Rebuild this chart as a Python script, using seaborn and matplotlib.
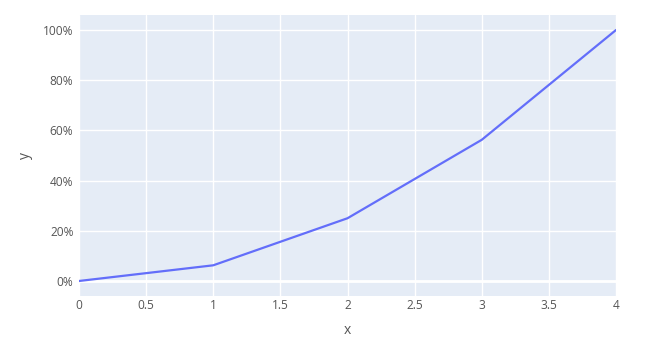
import matplotlib
matplotlib.use("Agg")
import matplotlib.pyplot as plt
import seaborn as sns
import pandas as pd
from matplotlib.ticker import FuncFormatter

x_values = [0, 1, 2, 3, 4]
y_values = [0.0, 0.0625, 0.25, 0.5625, 1.0]
x_ticks = [0, 0.5, 1, 1.5, 2, 2.5, 3, 3.5, 4]
y_ticks = [0, 0.2, 0.4, 0.6, 0.8, 1.0]

sns.set_theme(style="whitegrid")
plt.rcParams['font.family'] = ['Open Sans', 'DejaVu Sans']

df = pd.DataFrame({"x": x_values, "y": y_values})

fig = plt.figure(figsize=(6.6, 3.49), dpi=100)
ax = fig.add_axes([79/660, 53/349, (616-79)/660, (296-15)/349])
ax.set_facecolor("#E5ECF6")

sns.lineplot(data=df, x="x", y="y", ax=ax, color="#636EFA", linewidth=1.6)

ax.set_xlim(0, 4)
ax.set_ylim(-0.0598, 1.0598)
ax.set_xticks(x_ticks)
ax.set_yticks(y_ticks)
ax.xaxis.set_major_formatter(FuncFormatter(lambda v, p: f"{v:g}"))
ax.yaxis.set_major_formatter(FuncFormatter(lambda v, p: f"{v*100:.0f}%"))
ax.grid(True, color="white", linewidth=1)
ax.axhline(0, color="white", linewidth=2, zorder=1.5)
for s in ax.spines.values():
    s.set_visible(False)
text_color = "#555555"
ax.tick_params(axis="x", length=0, labelsize=8.6, colors=text_color, pad=2)
ax.tick_params(axis="y", length=0, labelsize=8.6, colors=text_color, pad=4)
ax.set_xlabel("x", fontsize=10, color=text_color, labelpad=8)
ax.set_ylabel("y", fontsize=10, color=text_color, labelpad=7)

fig.savefig("out.png", dpi=100, facecolor="white")
